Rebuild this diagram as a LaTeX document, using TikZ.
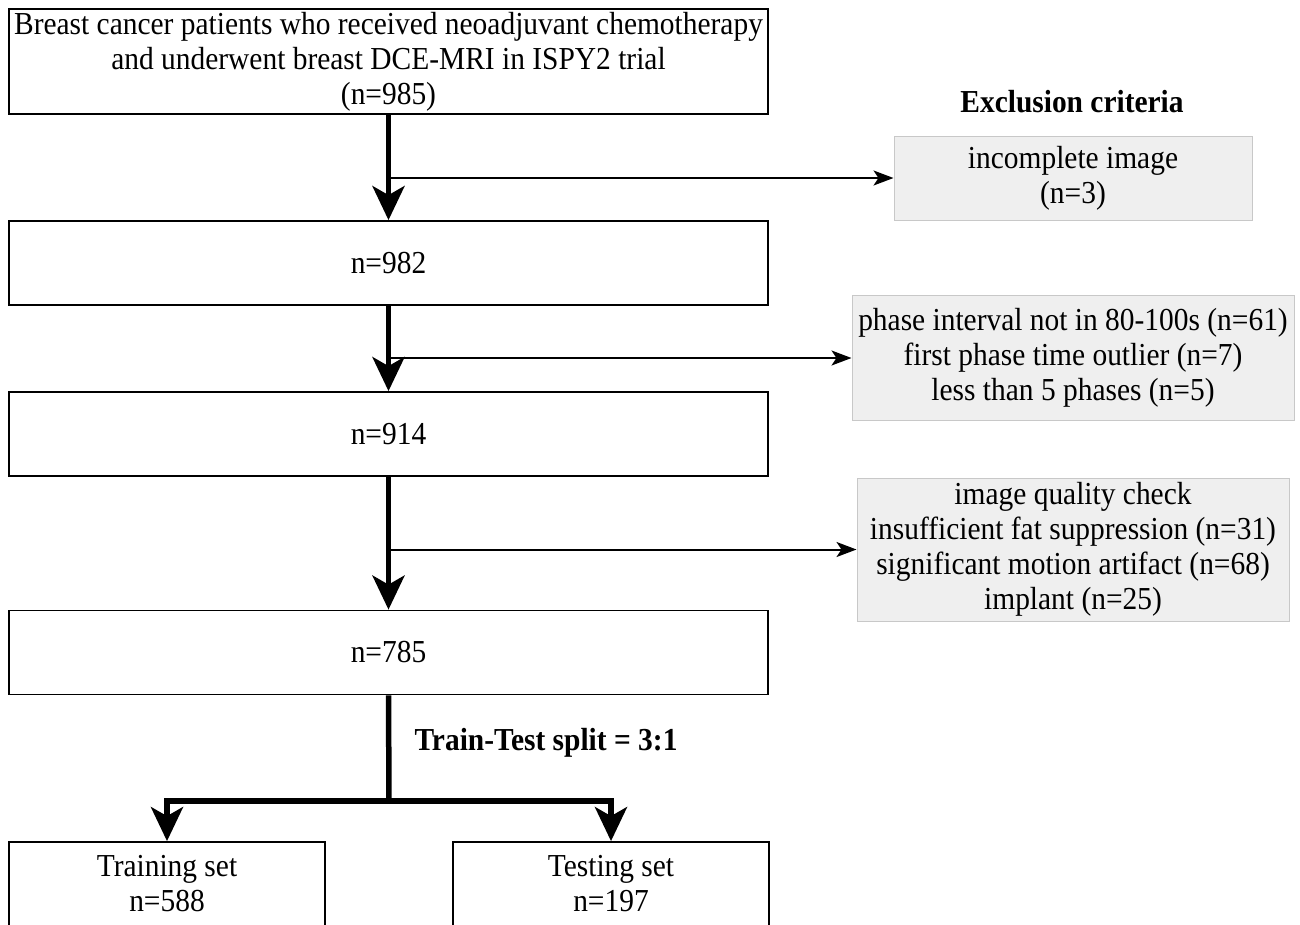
\documentclass[tikz,border=0pt]{standalone}
\usepackage{fontspec}
\setmainfont{Liberation Serif}[FakeStretch=0.92]
\usetikzlibrary{arrows.meta}
\definecolor{exfill}{HTML}{EFEFEF}
\definecolor{exdraw}{HTML}{C8C8C8}
\tikzset{
  mainbox/.style={draw=black, line width=1.8pt, fill=white, inner sep=0pt, align=center,
    font=\fontsize{32}{35}\selectfont},
  exbox/.style={draw=exdraw, line width=1pt, fill=exfill, inner sep=0pt, align=center,
    font=\fontsize{32}{35}\selectfont},
  bigarrow/.style={line width=5.5pt, -{Stealth[length=34pt,width=32pt,inset=9pt]}},
  bigline/.style={line width=5.5pt},
  sidearrow/.style={line width=2pt, -{Stealth[length=20pt,width=15pt,inset=5pt]}},
  boldlabel/.style={font=\fontsize{32}{35}\selectfont\bfseries, inner sep=0pt}
}
\begin{document}
\begin{tikzpicture}[x=1pt,y=-1pt]
\useasboundingbox[fill=white] (0,0) rectangle (1300,924);
% main boxes
\node[mainbox, minimum width=759pt, minimum height=105pt] (top) at (388.5,61.5)
  {Breast cancer patients who received neoadjuvant chemotherapy\\and underwent breast DCE-MRI in ISPY2 trial\\(n=985)};
\node[mainbox, minimum width=759pt, minimum height=84pt] (b982) at (388.5,263) {n=982};
\node[mainbox, minimum width=759pt, minimum height=84pt] (b914) at (388.5,434) {n=914};
\node[mainbox, minimum width=759pt, minimum height=84pt] (b785) at (388.5,652.5) {n=785};
\node[mainbox, minimum width=316pt, minimum height=84pt] (train) at (167,884) {Training set\\n=588};
\node[mainbox, minimum width=316pt, minimum height=84pt] (test) at (611,884) {Testing set\\n=197};
% exclusion boxes
\node[boldlabel] (exc) at (1072,102) {Exclusion criteria};
\node[exbox, minimum width=358pt, minimum height=84pt] (e1) at (1073,178) {incomplete image\\(n=3)};
\node[exbox, minimum width=442pt, minimum height=125pt] (e2) at (1073,358)
  {phase interval not in 80-100s (n=61)\\first phase time outlier (n=7)\\less than 5 phases (n=5)};
\node[exbox, minimum width=432pt, minimum height=143pt] (e3) at (1073,549.5)
  {image quality check\\insufficient fat suppression (n=31)\\significant motion artifact (n=68)\\implant (n=25)};
% main flow
\draw[bigarrow] (top.south) -- (b982.north);
\draw[bigarrow] (b982.south) -- (b914.north);
\draw[bigarrow] (b914.south) -- (b785.north);
% side branches
\draw[sidearrow] (e1.west -| top.south) -- (e1.west);
\draw[sidearrow] (e2.west -| b982.south) -- (e2.west);
\draw[sidearrow] (e3.west -| b914.south) -- (e3.west);
% split
\coordinate (sp) at (389,801);
\draw[bigline] (b785.south) -- (sp);
\draw[bigarrow] (sp) -| (train.north);
\draw[bigarrow] (sp) -| (test.north);
\node[boldlabel] (split) at (546,743) {Train-Test split = 3:1};
\end{tikzpicture}
\end{document}
